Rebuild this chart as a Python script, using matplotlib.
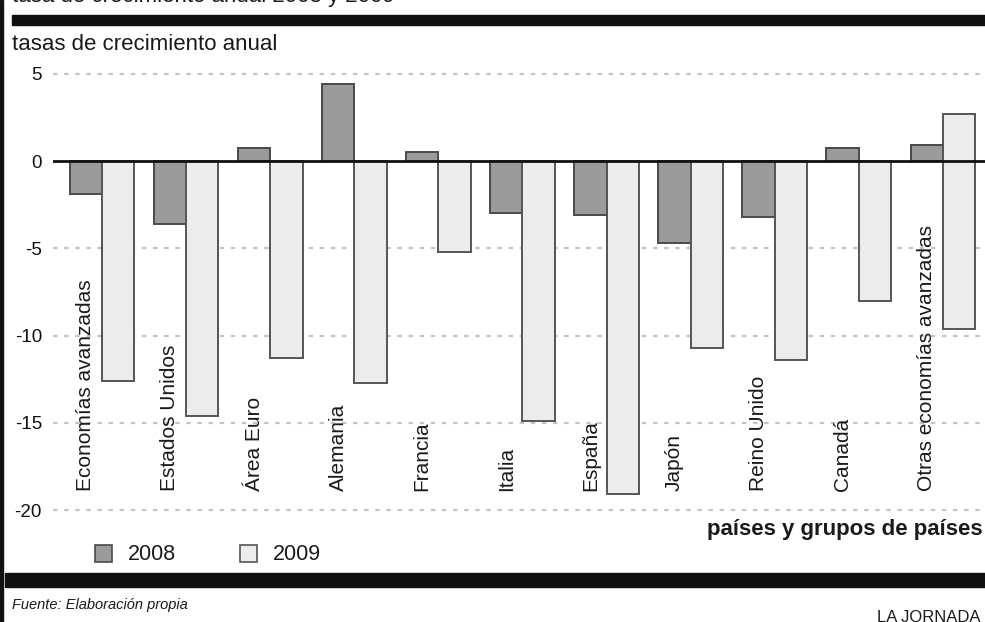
import matplotlib.pyplot as plt
from matplotlib.patches import Rectangle
import numpy as np

plt.rcParams['font.family'] = ['Liberation Sans', 'DejaVu Sans']

# tasas de crecimiento anual (%)
paises = ["Economías avanzadas", "Estados Unidos", "Área Euro", "Alemania",
          "Francia", "Italia", "España", "Japón", "Reino Unido", "Canadá",
          "Otras economías avanzadas"]
tasa_2008 = [-1.9, -3.6, 0.75, 4.4, 0.5, -3.0, -3.1, -4.7, -3.2, 0.75, 0.9]
tasa_2009 = [-12.6, -14.6, -11.3, -12.7, -5.2, -14.9, -19.1, -10.7, -11.4, -8.0, -9.6]
# la última barra de 2009 arranca por encima del cero
base_2009 = [0, 0, 0, 0, 0, 0, 0, 0, 0, 0, 2.7]
yticks = [5, 0, -5, -10, -15, -20]

W, H = 985, 622
gris_08, borde_08 = "#9b9b9b", "#4a4a4a"
gris_09, borde_09 = "#ececec", "#555555"
tinta = "#1a1a1a"


def fx(px):
    return px / W


def fy(py):
    return 1 - py / H


fig = plt.figure(figsize=(W / 100, H / 100), dpi=100)
ax = fig.add_axes([fx(53), fy(521), 1 - fx(53), fy(56) - fy(521)])

x = np.arange(len(paises))
ancho = 0.385
ax.bar(x - ancho / 2, tasa_2008, width=ancho, color=gris_08,
       edgecolor=borde_08, linewidth=1.4, zorder=3)
alto_09 = np.array(tasa_2009) - np.array(base_2009)
ax.bar(x + ancho / 2, alto_09, bottom=base_2009, width=ancho, color=gris_09,
       edgecolor=borde_09, linewidth=1.4, zorder=3)

# rejilla punteada y línea del cero
for v in yticks:
    if v == 0:
        ax.axhline(0, color="#111111", lw=2, zorder=4)
    else:
        ax.axhline(v, color="#c4c4c4", lw=1.6, ls=(0, (2, 3)), zorder=1)

ax.set_xlim(-0.583, 10.5)
ax.set_ylim(-20.63, 6.03)
ax.set_yticks(yticks)
ax.set_yticklabels([str(v) for v in yticks])
ax.tick_params(axis='y', length=0, pad=8, labelsize=13.5, labelcolor="#111111")
ax.set_xticks([])
for s in ax.spines.values():
    s.set_visible(False)

for i, nombre in enumerate(paises):
    ax.text(x[i] - ancho / 2, -18.9, nombre, rotation=90, ha='center',
            va='bottom', fontsize=15, color=tinta, zorder=5)

# textos y marco
fig.text(fx(12), fy(2), "tasa de crecimiento anual 2008 y 2009",
         fontsize=16, color=tinta, va='baseline')
fig.text(fx(12), fy(45), "tasas de crecimiento anual", fontsize=16,
         color=tinta, va='center')
fig.text(fx(983), fy(530), "países y grupos de países", fontsize=16,
         fontweight='bold', color=tinta, ha='right', va='center')
fig.text(fx(12), fy(605), "Fuente: Elaboración propia", fontsize=10.5,
         style='italic', color=tinta, va='center')
fig.text(fx(877), fy(622), "LA JORNADA", fontsize=12, color=tinta,
         va='baseline')

# leyenda
for xl, color, borde, etiqueta in [(95, gris_08, borde_08, "2008"),
                                   (240, gris_09, borde_09, "2009")]:
    fig.patches.append(Rectangle((fx(xl), fy(562)), 17 / W, 17 / H,
                                 transform=fig.transFigure, facecolor=color,
                                 edgecolor=borde, linewidth=1.2))
    fig.text(fx(xl + 33), fy(554), etiqueta, fontsize=15.5, color=tinta,
             va='center')

# barras negras y filete izquierdo
fig.patches.append(Rectangle((fx(12), fy(25)), 1, 10 / H,
                             transform=fig.transFigure, color="#111111"))
fig.patches.append(Rectangle((fx(5), fy(587)), 1, 14 / H,
                             transform=fig.transFigure, color="#111111"))
fig.patches.append(Rectangle((0, 0), 3 / W, 1,
                             transform=fig.transFigure, color="#111111"))

fig.savefig("out.png", dpi=100, facecolor="white")
